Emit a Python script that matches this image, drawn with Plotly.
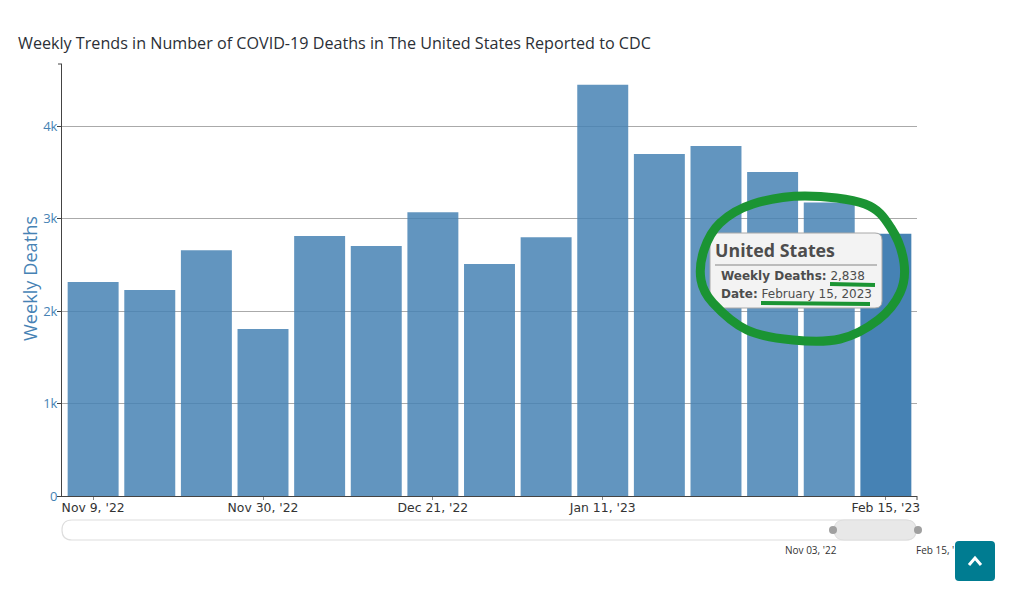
import plotly.graph_objects as go

weeks = ["Nov 9, '22", "Nov 16, '22", "Nov 23, '22", "Nov 30, '22", "Dec 7, '22", "Dec 14, '22",
         "Dec 21, '22", "Dec 28, '22", "Jan 4, '23", "Jan 11, '23", "Jan 18, '23", "Jan 25, '23",
         "Feb 1, '23", "Feb 8, '23", "Feb 15, '23"]
weekly_deaths = [2316, 2229, 2660, 1807, 2814, 2706, 3070, 2510, 2800, 4450, 3700, 3788, 3506, 3175, 2838]
x_ticks = ["Nov 9, '22", "Nov 30, '22", "Dec 21, '22", "Jan 11, '23", "Feb 15, '23"]
y_ticks = [0, 1000, 2000, 3000, 4000]
y_labels = ["0", "1k", "2k", "3k", "4k"]

L, R, T, B = 62, 917, 64, 496
W, H = 1010, 591
BLUE = "#4682b4"
GREEN = "#1b9433"


def px(x):
    return (x - L) / (R - L)


def py(y):
    return (B - y) / (B - T)


def rounded(x0, y0, x1, y1, r):
    return (f"M{px(x0 + r)},{py(y0)} L{px(x1 - r)},{py(y0)} Q{px(x1)},{py(y0)} {px(x1)},{py(y0 + r)} "
            f"L{px(x1)},{py(y1 - r)} Q{px(x1)},{py(y1)} {px(x1 - r)},{py(y1)} L{px(x0 + r)},{py(y1)} "
            f"Q{px(x0)},{py(y1)} {px(x0)},{py(y1 - r)} L{px(x0)},{py(y0 + r)} Q{px(x0)},{py(y0)} {px(x0 + r)},{py(y0)} Z")


def smooth_loop(pts):
    n = len(pts)
    d = f"M{px(pts[0][0])},{py(pts[0][1])}"
    for i in range(n):
        p0, p1, p2, p3 = pts[i - 1], pts[i], pts[(i + 1) % n], pts[(i + 2) % n]
        c1 = (p1[0] + (p2[0] - p0[0]) / 6, p1[1] + (p2[1] - p0[1]) / 6)
        c2 = (p2[0] - (p3[0] - p1[0]) / 6, p2[1] - (p3[1] - p1[1]) / 6)
        d += f" C{px(c1[0])},{py(c1[1])} {px(c2[0])},{py(c2[1])} {px(p2[0])},{py(p2[1])}"
    return d + " Z"


def shape_path(d, fill=None, line=None, width=1):
    return dict(type="path", xref="paper", yref="paper", path=d, fillcolor=fill or "rgba(0,0,0,0)",
                line=dict(color=line or "rgba(0,0,0,0)", width=width if line else 0))


def seg(x0, y0, x1, y1, color, width):
    return dict(type="line", xref="paper", yref="paper", x0=px(x0), y0=py(y0), x1=px(x1), y1=py(y1),
                line=dict(color=color, width=width))


def note(x, y, text, size, color, anchor="left", family="DejaVu Sans", angle=0):
    return dict(xref="paper", yref="paper", x=px(x), y=py(y), text=text, showarrow=False, xanchor=anchor,
                yanchor="middle", textangle=angle, font=dict(size=size, color=color, family=family))


opac = [0.85] * (len(weeks) - 1) + [1.0]
fig = go.Figure(go.Bar(x=weeks, y=weekly_deaths, width=0.9, marker=dict(color=BLUE, opacity=opac, line_width=0)))

loop = [(805, 196), (865, 204), (891, 228), (904, 263), (900, 293), (878, 320), (840, 339), (793, 340),
        (747, 330), (713, 303), (701, 280), (704, 250), (720, 223), (753, 204)]

shapes = [
    # outer ticks at axis ends
    seg(L - 4, T, L, T, "#444", 1),
    seg(R, B, R, B + 4, "#444", 1),
    # range slider
    shape_path(rounded(L, 520, R - 1, 540, 10), fill="#ffffff", line="#dedede", width=1.2),
    shape_path(rounded(834, 520, 916, 540, 10), fill="#e8e8e8", line="#dedede", width=1),
    dict(type="circle", xref="paper", yref="paper", x0=px(829), x1=px(837), y0=py(534), y1=py(526),
         fillcolor="#a0a0a0", line_width=0),
    dict(type="circle", xref="paper", yref="paper", x0=px(914), x1=px(922), y0=py(534), y1=py(526),
         fillcolor="#a0a0a0", line_width=0),
    # tooltip
    shape_path(rounded(710, 233, 882, 308, 7), fill="#f3f3f3", line="#a8a8a8", width=1),
    seg(715, 265, 877, 265, "#aaaaaa", 1.5),
    # hand-drawn marks
    shape_path(smooth_loop(loop), line=GREEN, width=9),
    seg(830, 284, 875, 285, GREEN, 4),
    seg(761, 303, 870, 304, GREEN, 4),
    # back to top button
    shape_path(rounded(955, 541, 995, 581, 4), fill="#007c91"),
    shape_path(f"M{px(969)},{py(565)} L{px(975)},{py(558)} L{px(981)},{py(565)}", line="#ffffff", width=3),
]

annotations = [
    note(16, 43, "Weekly Trends in Number of COVID-19 Deaths in The United States Reported to CDC", 16.15, "#2b2f36",
         family="Open Sans"),
    note(30, 279, "Weekly Deaths", 18.2, BLUE, anchor="center", family="Open Sans", angle=-90),
    note(713, 250, "<b>United States</b>", 17.8, "#4d4d4d", family="Open Sans"),
    note(719, 276, "<b>Weekly Deaths:</b> 2,838", 12, "#4d4d4d"),
    note(719, 294, "<b>Date:</b> February 15, 2023", 12, "#4d4d4d"),
    note(811, 550, "Nov 03, '22", 10, "#333333", anchor="center", family="Open Sans"),
    note(914, 550, "Feb 15, '", 10, "#333333", family="Open Sans"),
]

fig.update_layout(
    width=W, height=H, autosize=False,
    margin=dict(l=L, r=W - R, t=T, b=H - B, pad=0),
    plot_bgcolor="white", paper_bgcolor="white", showlegend=False, bargap=0.1,
    xaxis=dict(type="category", categoryorder="array", categoryarray=weeks, range=[-0.55, 14.55],
               tickmode="array", tickvals=x_ticks, ticktext=x_ticks, tickangle=0, ticklabelstandoff=-3,
               tickfont=dict(family="DejaVu Sans", size=12.4, color="#333333"),
               ticks="outside", ticklen=3, tickcolor="#888888", showgrid=False,
               showline=True, linecolor="#444444", linewidth=1),
    yaxis=dict(range=[0, 4675], tickmode="array", tickvals=y_ticks, ticktext=y_labels, ticklabelstandoff=-3,
               tickfont=dict(family="Open Sans", size=13, color=BLUE),
               ticks="outside", ticklen=4, tickcolor="#444444", showgrid=True, gridcolor="#aaaaaa", gridwidth=1,
               zeroline=False, showline=True, linecolor="#444444", linewidth=1),
    shapes=shapes, annotations=annotations,
)

fig.write_html("out.html", config=dict(displayModeBar=False),
               post_script="document.body.style.margin='0';")
